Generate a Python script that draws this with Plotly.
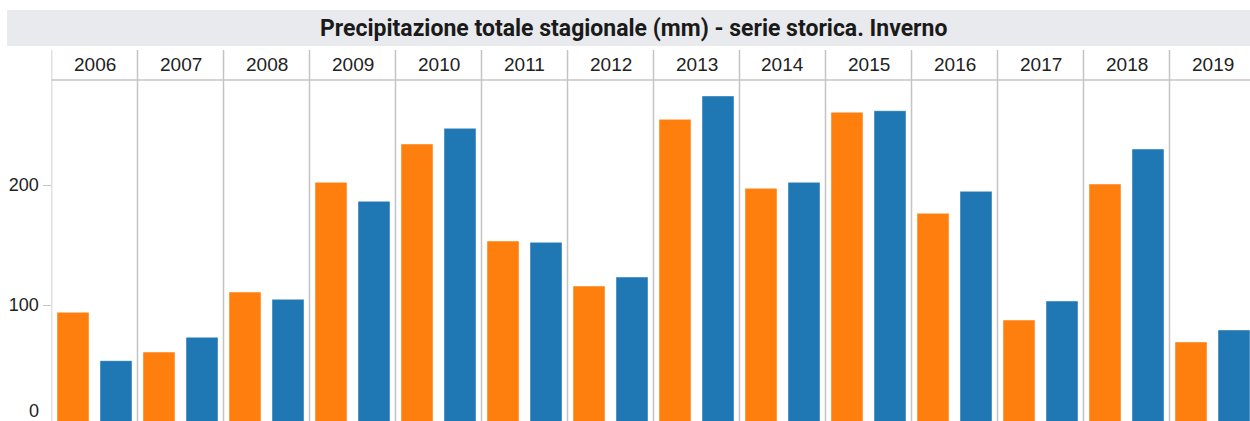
import plotly.graph_objects as go

years = [2006, 2007, 2008, 2009, 2010, 2011, 2012, 2013, 2014, 2015, 2016, 2017, 2018, 2019]
serie_arancio = [93.9, 60.8, 110.8, 202.2, 234.2, 153.3, 115.8, 254.7, 197.2, 260.6, 176.4, 87.5, 200.8, 69.2]
serie_blu = [53.6, 73.1, 104.7, 186.4, 247.2, 152.2, 123.3, 274.2, 202.2, 261.9, 194.7, 103.3, 230.0, 79.2]
y_ticks = [100, 200]
title_text = "Precipitazione totale stagionale (mm) - serie storica. Inverno"

W, H = 1250, 421
px_per_year = 86.0
left_px = 51.5
plot_top_px = 80
header_top_px = 50
zero_px = 425
px_per_unit = 1.2

def px_x(p):
    return p / W

def px_y(p):
    return 1 - p / H

x0 = years[0] - 0.5
x1 = x0 + (W - left_px) / px_per_year
y_lo = (zero_px - H) / px_per_unit
y_hi = (zero_px - plot_top_px) / px_per_unit

bar_w = 32 / px_per_year
half_off = 21.5 / px_per_year

fig = go.Figure()
fig.add_trace(go.Bar(x=years, y=serie_arancio, width=bar_w, offset=-half_off - bar_w / 2,
                     marker=dict(color="#ff7f0e", line=dict(color="rgba(255,255,255,0.45)", width=1)),
                     showlegend=False, hoverinfo="x+y"))
fig.add_trace(go.Bar(x=years, y=serie_blu, width=bar_w, offset=half_off - bar_w / 2,
                     marker=dict(color="#1f77b4", line=dict(color="rgba(255,255,255,0.45)", width=1)),
                     showlegend=False, hoverinfo="x+y"))

shapes = []
# title band
shapes.append(dict(type="rect", xref="paper", yref="paper", x0=px_x(7), x1=1.0,
                   y0=px_y(46), y1=px_y(10), fillcolor="#e9eaee", line=dict(width=0), layer="below"))
# header bottom line
shapes.append(dict(type="line", xref="paper", yref="paper", x0=px_x(left_px), x1=1.0,
                   y0=px_y(plot_top_px), y1=px_y(plot_top_px), line=dict(color="#c4c4c4", width=1.5)))
# year separators
for yr in years:
    shapes.append(dict(type="line", xref="x", yref="paper", x0=yr - 0.5, x1=yr - 0.5,
                       y0=0, y1=px_y(header_top_px), line=dict(color="#c4c4c4", width=1.5)))

annotations = []
annotations.append(dict(text="<b>" + title_text + "</b>", xref="paper", yref="paper",
                        x=px_x(633), y=px_y(28), showarrow=False, xanchor="center", yanchor="middle",
                        font=dict(family="Roboto", size=23, color="#1a1a1a")))
for yr in years:
    annotations.append(dict(text=str(yr), xref="x", yref="paper", x=yr, y=px_y(65),
                            showarrow=False, xanchor="center", yanchor="middle",
                            font=dict(family="Liberation Sans", size=19, color="#222222")))
annotations.append(dict(text="0", xref="paper", yref="paper", x=px_x(41), y=px_y(411),
                        showarrow=False, xanchor="right", yanchor="middle",
                        font=dict(family="Liberation Sans", size=18, color="#222222")))

fig.update_layout(
    width=W, height=H,
    margin=dict(l=0, r=0, t=0, b=0),
    paper_bgcolor="white", plot_bgcolor="white",
    barmode="overlay",
    shapes=shapes, annotations=annotations,
    xaxis=dict(domain=[px_x(left_px), 1.0], range=[x0, x1], showticklabels=False,
               showgrid=False, zeroline=False, showline=False, ticks=""),
    yaxis=dict(domain=[0, px_y(plot_top_px)], range=[y_lo, y_hi], tickvals=y_ticks,
               ticktext=[str(v) for v in y_ticks], ticks="outside", ticklen=8,
               tickcolor="#c4c4c4", showgrid=False, zeroline=False, showline=False,
               tickfont=dict(family="Liberation Sans", size=18, color="#222222")),
)

fig.write_html("out.html", config={"displayModeBar": False},
               post_script="document.body.style.margin='0px';document.body.style.overflow='hidden';")
